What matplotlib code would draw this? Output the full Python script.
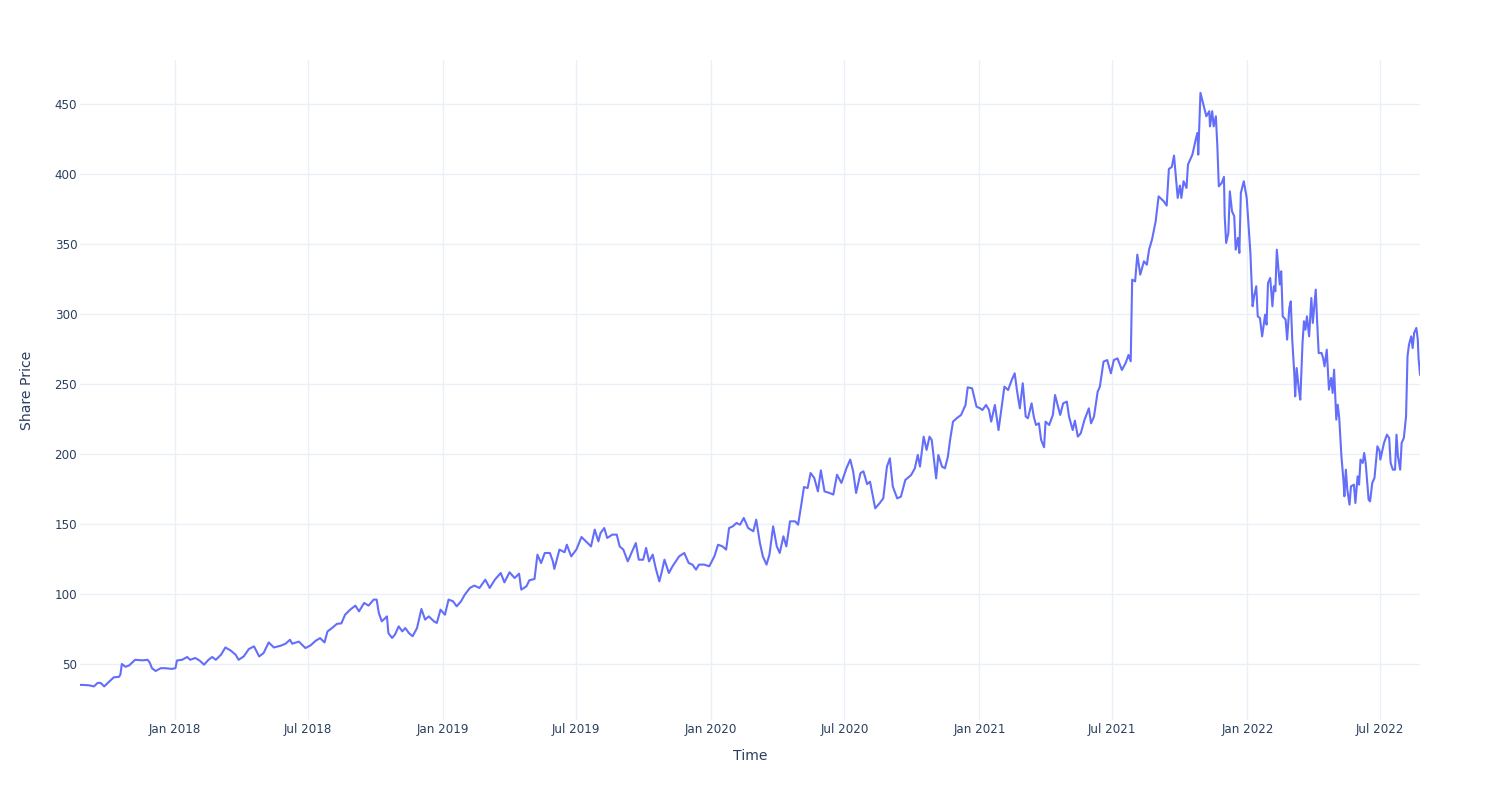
import matplotlib
matplotlib.use("Agg")
import matplotlib.pyplot as plt
import matplotlib.dates as mdates
import pandas as pd

# share price
dates = [
    "2017-08-25", "2017-08-27", "2017-09-06", "2017-09-13", "2017-09-18", "2017-09-22", "2017-09-27",
    "2017-10-03", "2017-10-10", "2017-10-17", "2017-10-19", "2017-10-21", "2017-10-26", "2017-10-31",
    "2017-11-08", "2017-11-18", "2017-11-25", "2017-11-28", "2017-12-01", "2017-12-06", "2017-12-13",
    "2017-12-19", "2017-12-28",
    "2018-01-02", "2018-01-04", "2018-01-11", "2018-01-18", "2018-01-22", "2018-01-29", "2018-02-04",
    "2018-02-10", "2018-02-16", "2018-02-21", "2018-02-26", "2018-03-05", "2018-03-11", "2018-03-18",
    "2018-03-25", "2018-03-29", "2018-04-05", "2018-04-12", "2018-04-19", "2018-04-26", "2018-05-02",
    "2018-05-09", "2018-05-16", "2018-05-25", "2018-06-01", "2018-06-07", "2018-06-10", "2018-06-19",
    "2018-06-28", "2018-07-05", "2018-07-12", "2018-07-18", "2018-07-24", "2018-07-28", "2018-08-03",
    "2018-08-10", "2018-08-16", "2018-08-21", "2018-08-28", "2018-09-04", "2018-09-09", "2018-09-16",
    "2018-09-22", "2018-09-29", "2018-10-03", "2018-10-06", "2018-10-10", "2018-10-15", "2018-10-17",
    "2018-10-19", "2018-10-24", "2018-10-28", "2018-11-02", "2018-11-07", "2018-11-11", "2018-11-16",
    "2018-11-21", "2018-11-27", "2018-12-03", "2018-12-08", "2018-12-13", "2018-12-20", "2018-12-24",
    "2018-12-29",
    "2019-01-04", "2019-01-09", "2019-01-15", "2019-01-20", "2019-01-26", "2019-01-31", "2019-02-07",
    "2019-02-13", "2019-02-20", "2019-02-28", "2019-03-06", "2019-03-13", "2019-03-21", "2019-03-26",
    "2019-04-02", "2019-04-09", "2019-04-15", "2019-04-18", "2019-04-25", "2019-04-29", "2019-05-06",
    "2019-05-10", "2019-05-15", "2019-05-20", "2019-05-27", "2019-05-31", "2019-06-02", "2019-06-09",
    "2019-06-16", "2019-06-19", "2019-06-25", "2019-07-02", "2019-07-09", "2019-07-15", "2019-07-22",
    "2019-07-27", "2019-08-01", "2019-08-04", "2019-08-09", "2019-08-13", "2019-08-20", "2019-08-26",
    "2019-08-30", "2019-09-04", "2019-09-10", "2019-09-15", "2019-09-21", "2019-09-25", "2019-10-01",
    "2019-10-05", "2019-10-09", "2019-10-14", "2019-10-18", "2019-10-23", "2019-10-26", "2019-10-30",
    "2019-11-05", "2019-11-10", "2019-11-19", "2019-11-26", "2019-12-02", "2019-12-07", "2019-12-12",
    "2019-12-16", "2019-12-23", "2019-12-30",
    "2020-01-06", "2020-01-11", "2020-01-17", "2020-01-22", "2020-01-26", "2020-01-31", "2020-02-05",
    "2020-02-10", "2020-02-15", "2020-02-21", "2020-02-28", "2020-03-03", "2020-03-08", "2020-03-12",
    "2020-03-17", "2020-03-21", "2020-03-26", "2020-03-31", "2020-04-04", "2020-04-09", "2020-04-13",
    "2020-04-18", "2020-04-25", "2020-04-29", "2020-05-03", "2020-05-07", "2020-05-12", "2020-05-16",
    "2020-05-21", "2020-05-26", "2020-05-30", "2020-06-04", "2020-06-11", "2020-06-16", "2020-06-21",
    "2020-06-27", "2020-07-04", "2020-07-09", "2020-07-13", "2020-07-17", "2020-07-23", "2020-07-27",
    "2020-08-01", "2020-08-05", "2020-08-12", "2020-08-18", "2020-08-23", "2020-08-28", "2020-09-01",
    "2020-09-05", "2020-09-11", "2020-09-16", "2020-09-22", "2020-09-30", "2020-10-05", "2020-10-09",
    "2020-10-12", "2020-10-17", "2020-10-21", "2020-10-25", "2020-10-28", "2020-11-03", "2020-11-06",
    "2020-11-11", "2020-11-15", "2020-11-19", "2020-11-22", "2020-11-26", "2020-12-01", "2020-12-07",
    "2020-12-13", "2020-12-16", "2020-12-22", "2020-12-28",
    "2021-01-02", "2021-01-05", "2021-01-10", "2021-01-14", "2021-01-17", "2021-01-22", "2021-01-27",
    "2021-01-31", "2021-02-04", "2021-02-09", "2021-02-14", "2021-02-18", "2021-02-21", "2021-02-25",
    "2021-03-01", "2021-03-05", "2021-03-08", "2021-03-13", "2021-03-16", "2021-03-19", "2021-03-23",
    "2021-03-26", "2021-03-30", "2021-04-01", "2021-04-06", "2021-04-11", "2021-04-14", "2021-04-18",
    "2021-04-21", "2021-04-25", "2021-04-30", "2021-05-03", "2021-05-08", "2021-05-11", "2021-05-15",
    "2021-05-19", "2021-05-24", "2021-05-30", "2021-06-02", "2021-06-06", "2021-06-11", "2021-06-14",
    "2021-06-19", "2021-06-24", "2021-06-29", "2021-07-03", "2021-07-08", "2021-07-14", "2021-07-19",
    "2021-07-23", "2021-07-26", "2021-07-28", "2021-08-01", "2021-08-04", "2021-08-08", "2021-08-13",
    "2021-08-17", "2021-08-20", "2021-08-24", "2021-08-29", "2021-09-02", "2021-09-09", "2021-09-13",
    "2021-09-16", "2021-09-20", "2021-09-23", "2021-09-28", "2021-10-01", "2021-10-03", "2021-10-06",
    "2021-10-10", "2021-10-12", "2021-10-18", "2021-10-23", "2021-10-25", "2021-10-26", "2021-10-29",
    "2021-11-02", "2021-11-06", "2021-11-10", "2021-11-11", "2021-11-14", "2021-11-16", "2021-11-19",
    "2021-11-21", "2021-11-23", "2021-11-27", "2021-11-30", "2021-12-01", "2021-12-03", "2021-12-06",
    "2021-12-08", "2021-12-11", "2021-12-14", "2021-12-16", "2021-12-19", "2021-12-21", "2021-12-23",
    "2021-12-27", "2021-12-31",
    "2022-01-05", "2022-01-08", "2022-01-10", "2022-01-13", "2022-01-15", "2022-01-18", "2022-01-21",
    "2022-01-25", "2022-01-27", "2022-01-29", "2022-02-01", "2022-02-04", "2022-02-06", "2022-02-08",
    "2022-02-10", "2022-02-14", "2022-02-16", "2022-02-18", "2022-02-22", "2022-02-24", "2022-02-27",
    "2022-03-01", "2022-03-03", "2022-03-06", "2022-03-07", "2022-03-09", "2022-03-12", "2022-03-14",
    "2022-03-17", "2022-03-19", "2022-03-21", "2022-03-23", "2022-03-26", "2022-03-29", "2022-03-31",
    "2022-04-04", "2022-04-06", "2022-04-08", "2022-04-12", "2022-04-14", "2022-04-16", "2022-04-19",
    "2022-04-22", "2022-04-25", "2022-04-27", "2022-04-29", "2022-05-02", "2022-05-04", "2022-05-06",
    "2022-05-09", "2022-05-12", "2022-05-13", "2022-05-15", "2022-05-17", "2022-05-20", "2022-05-22",
    "2022-05-26", "2022-05-28", "2022-05-31", "2022-06-02", "2022-06-04", "2022-06-07", "2022-06-09",
    "2022-06-11", "2022-06-15", "2022-06-17", "2022-06-20", "2022-06-23", "2022-06-27", "2022-06-30",
    "2022-07-01", "2022-07-06", "2022-07-10", "2022-07-13", "2022-07-15", "2022-07-18", "2022-07-21",
    "2022-07-23", "2022-07-25", "2022-07-28", "2022-07-30", "2022-08-02", "2022-08-05", "2022-08-07",
    "2022-08-09", "2022-08-12", "2022-08-14", "2022-08-16", "2022-08-19", "2022-08-21", "2022-08-22",
    "2022-08-24",
]

prices = [
    35.0, 35.1, 34.8, 34.0, 36.5, 36.5, 34.0,
    37.0, 40.5, 40.8, 42.4, 50.0, 48.0, 49.0,
    53.0, 52.6, 53.0, 51.0, 47.0, 45.0, 47.0,
    47.0, 46.5,
    47.0, 52.5, 53.0, 55.0, 53.0, 54.3, 52.4,
    49.5, 53.0, 55.0, 53.0, 56.6, 61.8, 59.7,
    56.6, 53.0, 55.4, 60.7, 62.6, 55.4, 57.8,
    65.4, 61.8, 63.0, 64.5, 67.3, 64.5, 66.0,
    61.4, 63.3, 66.6, 68.5, 65.4, 73.2, 75.6,
    78.7, 79.0, 85.2, 88.8, 91.7, 87.6, 93.6,
    91.7, 96.0, 96.0, 86.4, 80.5, 82.9, 84.0,
    72.1, 68.6, 71.0, 76.9, 73.3, 75.7, 72.1,
    69.8, 75.7, 89.3, 81.7, 84.0, 80.5, 79.3,
    88.8,
    85.2, 96.0, 94.8, 91.2, 94.8, 99.5, 104.3,
    106.0, 104.3, 110.2, 104.3, 110.2, 115.0, 108.3,
    115.5, 111.4, 114.5, 103.1, 105.5, 109.8, 110.7,
    128.1, 122.1, 129.3, 129.3, 123.3, 117.9, 131.7,
    129.8, 135.2, 126.9, 131.7, 140.7, 137.6, 134.0,
    146.0, 137.6, 143.6, 147.1, 140.0, 142.4, 142.4,
    134.0, 131.7, 123.3, 129.3, 136.4, 124.5, 124.5,
    132.9, 123.3, 128.1, 118.6, 109.0, 115.0, 124.5,
    115.0, 119.8, 126.9, 129.3, 122.1, 121.0, 117.4,
    121.0, 121.0, 119.8,
    126.9, 135.2, 134.0, 131.7, 147.1, 148.3, 150.7,
    149.5, 154.3, 147.1, 144.8, 153.1, 136.4, 126.9,
    121.0, 128.1, 148.3, 134.0, 129.3, 141.2, 134.0,
    151.9, 151.9, 149.5, 162.6, 176.4, 175.7, 186.4,
    182.9, 173.3, 188.3, 173.3, 172.1, 171.0, 185.2,
    179.3, 190.0, 196.0, 187.6, 172.1, 186.4, 187.6,
    178.5, 180.2, 161.2, 164.8, 168.3, 191.0, 196.9,
    176.7, 168.3, 169.5, 181.4, 185.0, 189.8, 199.3,
    191.0, 212.4, 202.9, 212.4, 210.0, 182.6, 199.3,
    191.0, 189.8, 198.1, 210.0, 223.1, 225.5, 227.9,
    235.0, 247.6, 246.9, 233.8,
    232.6, 231.4, 235.0, 231.4, 223.1, 235.0, 217.1,
    232.6, 248.1, 245.7, 252.9, 257.6, 245.7, 232.6,
    250.5, 226.7, 225.5, 236.2, 226.7, 220.7, 221.9,
    210.0, 204.8, 223.1, 220.7, 227.9, 242.1, 233.8,
    227.9, 236.2, 237.4, 226.7, 217.1, 223.8, 212.4,
    214.8, 224.3, 232.6, 221.9, 226.7, 244.5, 248.1,
    266.0, 267.1, 257.6, 267.1, 268.3, 260.0, 264.8,
    270.7, 266.2, 324.5, 323.3, 342.4, 328.1, 337.6,
    335.2, 345.9, 353.1, 366.2, 384.0, 380.5, 377.4,
    403.6, 405.0, 413.1, 382.9, 391.7, 382.9, 394.8,
    390.0, 406.7, 413.8, 425.7, 429.3, 413.8, 457.9,
    449.5, 441.2, 444.8, 434.0, 444.8, 434.0, 441.2,
    419.8, 391.2, 393.6, 397.9, 369.8, 350.7, 357.9,
    387.6, 373.3, 369.8, 345.9, 354.3, 343.6, 386.4,
    394.8, 382.9,
    343.6, 305.5, 312.6, 319.8, 298.3, 297.1, 284.0,
    299.5, 292.4, 322.1, 325.7, 305.5, 319.8, 316.2,
    345.9, 321.0, 330.5, 298.3, 296.0, 281.7, 304.3,
    309.0, 281.7, 255.5, 241.2, 261.4, 246.0, 238.8,
    279.3, 294.8, 288.8, 298.3, 284.0, 311.4, 293.6,
    317.4, 293.6, 272.1, 272.1, 268.6, 262.6, 274.5,
    246.0, 254.3, 243.6, 260.2, 224.5, 235.2, 225.7,
    198.3, 179.3, 169.8, 188.8, 174.5, 163.8, 176.9,
    178.1, 165.0, 184.0, 178.1, 196.0, 193.6, 200.7,
    193.6, 167.4, 166.2, 179.3, 182.9, 205.5, 202.1,
    196.0, 207.9, 213.8, 211.4, 193.6, 188.8, 188.8,
    213.8, 198.3, 188.8, 207.9, 211.4, 226.9, 269.8,
    278.1, 284.0, 275.7, 286.4, 290.0, 281.7, 268.6,
    256.7,
]

y_ticks = [50, 100, 150, 200, 250, 300, 350, 400, 450]

text_color = "#2a3f5f"
grid_color = "#EBF0F8"
line_color = "#636EFA"

plt.rcParams["font.family"] = ["DejaVu Sans"]

x = pd.to_datetime(dates)

fig = plt.figure(figsize=(15, 8), dpi=100)
ax = fig.add_axes([80 / 1500, 80 / 800, 1340 / 1500, 660 / 800])

ax.plot(x, prices, color=line_color, linewidth=1.5, zorder=3)

ax.set_xlim(x[0], x[-1])
ax.set_ylim(10, 481.4)
ax.set_yticks(y_ticks)

ax.xaxis.set_major_locator(mdates.MonthLocator(bymonth=[1, 7]))
ax.xaxis.set_major_formatter(mdates.DateFormatter("%b %Y"))

for s in ax.spines.values():
    s.set_visible(False)
ax.grid(True, color=grid_color, linewidth=1, zorder=0)
ax.set_axisbelow(True)
ax.tick_params(axis="both", length=0, labelsize=8.6, labelcolor=text_color)
ax.tick_params(axis="x", pad=2.5)
ax.tick_params(axis="y", pad=2)

ax.set_xlabel("Time", fontsize=10.1, color=text_color, va="center")
ax.set_ylabel("Share Price", fontsize=10.1, color=text_color, va="center")
ax.xaxis.set_label_coords(0.5, (720 - 756) / 660)
ax.yaxis.set_label_coords((27 - 80) / 1340, 0.5)

fig.savefig("out.png", dpi=100, facecolor="white")
